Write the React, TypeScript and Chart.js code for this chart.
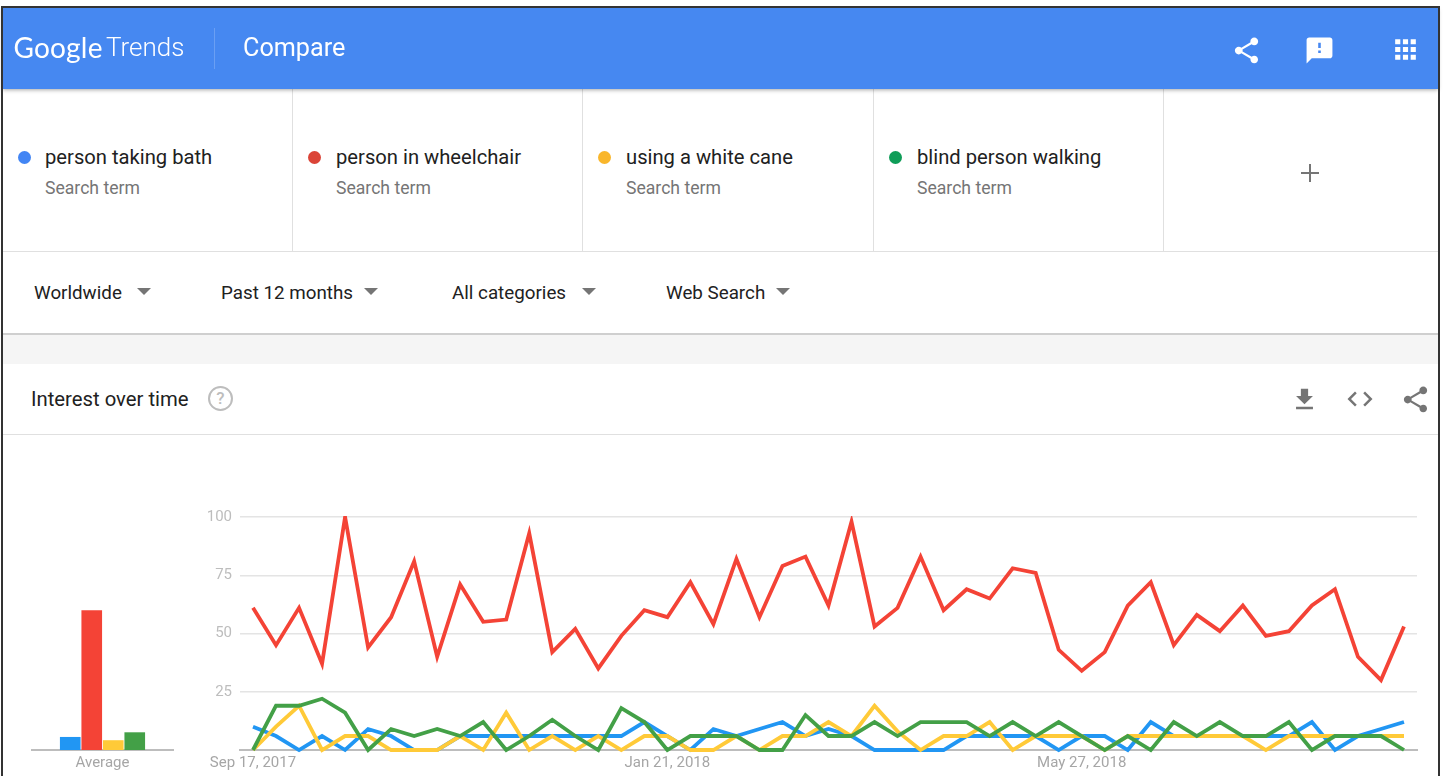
import React, { useEffect, useRef } from "react";
import { Chart, registerables } from "chart.js";

Chart.register(...registerables);

const seriesNames = ["person taking bath", "person in wheelchair", "using a white cane", "blind person walking"];
const filters = ["Worldwide", "Past 12 months", "All categories", "Web Search"];
const yTicks = [0, 25, 50, 75, 100];
const xTickIndex = [0, 18, 36];
const xTickLabels = ["Sep 17, 2017", "Jan 21, 2018", "May 27, 2018"];

const bath = [10, 6, 0, 6, 0, 9, 6, 0, 0, 6, 6, 6, 6, 6, 6, 6, 6, 12, 6, 0, 9, 6, 9, 12, 6, 9, 6, 0, 0, 0, 0, 6, 6, 6, 6, 0, 6, 6, 0, 12, 6, 6, 6, 6, 6, 6, 12, 0, 6, 9, 12];
const wheelchair = [61, 45, 61, 37, 100, 44, 57, 81, 40, 71, 55, 56, 93, 42, 52, 35, 49, 60, 57, 72, 54, 82, 57, 79, 83, 62, 98, 53, 61, 83, 60, 69, 65, 78, 76, 43, 34, 42, 62, 72, 45, 58, 51, 62, 49, 51, 62, 69, 40, 30, 53];
const cane = [0, 10, 19, 0, 6, 6, 0, 0, 0, 6, 0, 16, 0, 6, 0, 6, 0, 6, 6, 0, 0, 6, 0, 6, 6, 12, 6, 19, 8, 0, 6, 6, 12, 0, 6, 6, 6, 0, 6, 6, 6, 6, 6, 6, 0, 6, 6, 6, 6, 6, 6];
const walking = [0, 19, 19, 22, 16, 0, 9, 6, 9, 6, 12, 0, 6, 13, 6, 0, 18, 12, 0, 6, 6, 6, 0, 0, 15, 6, 6, 12, 6, 12, 12, 12, 6, 12, 6, 12, 6, 0, 6, 0, 12, 6, 12, 6, 6, 12, 0, 6, 6, 6, 0];

const averages = [5.6, 60, 4.2, 7.6];
const averageLabels = ["Average"];

const lineColors = ["#2196F3", "#F44336", "#FFCA38", "#43A047"];
const dotColors = ["#4285F4", "#DB4437", "#F9B62B", "#0F9D58"];
const allSeries = [bath, wheelchair, cane, walking];

const FONT = "Roboto, sans-serif";

const ICONS: Record<string, string> = {
  share: "M18 16.08c-.76 0-1.44.3-1.96.77L8.91 12.7c.05-.23.09-.46.09-.7s-.04-.47-.09-.7l7.05-4.11c.54.5 1.25.81 2.04.81 1.66 0 3-1.34 3-3s-1.34-3-3-3-3 1.34-3 3c0 .24.04.47.09.7L8.04 9.81C7.5 9.31 6.79 9 6 9c-1.66 0-3 1.34-3 3s1.34 3 3 3c.79 0 1.5-.31 2.04-.81l7.12 4.16c-.05.21-.08.43-.08.65 0 1.61 1.31 2.92 2.92 2.92 1.61 0 2.92-1.31 2.92-2.92s-1.31-2.92-2.92-2.92z",
  feedback: "M20 2H4c-1.1 0-1.99.9-1.99 2L2 22l4-4h14c1.1 0 2-.9 2-2V4c0-1.1-.9-2-2-2zm-7 12h-2v-2h2v2zm0-4h-2V6h2v4z",
  apps: "M4 8h4V4H4v4zm6 12h4v-4h-4v4zm-6 0h4v-4H4v4zm0-6h4v-4H4v4zm6 0h4v-4h-4v4zm6-10v4h4V4h-4zm-6 4h4V4h-4v4zm6 6h4v-4h-4v4zm0 6h4v-4h-4v4z",
  download: "M19 9h-4V3H9v6H5l7 7 7-7zM5 18v2h14v-2H5z",
  code: "M9.4 16.6L4.8 12l4.6-4.6L8 6l-6 6 6 6 1.4-1.4zm5.2 0l4.6-4.6-4.6-4.6L16 6l6 6-6 6-1.4-1.4z",
};

function Box(p: { x: number; y: number; w: number; h: number; c: string; s?: React.CSSProperties }) {
  return <div style={{ position: "absolute", left: p.x, top: p.y, width: p.w, height: p.h, background: p.c, ...p.s }} />;
}

function Txt(p: { x: number; y: number; size: number; c: string; t: string; w?: number; f?: string; ls?: number }) {
  return (
    <span
      style={{
        position: "absolute",
        left: p.x,
        top: p.y,
        transform: "translateY(-50%)",
        font: `${p.w ?? 400} ${p.size}px ${p.f ?? FONT}`,
        color: p.c,
        whiteSpace: "nowrap",
        lineHeight: 1,
        letterSpacing: p.ls ?? 0,
      }}
    >
      {p.t}
    </span>
  );
}

function Icon(p: { name: string; cx: number; cy: number; size: number; c: string }) {
  return (
    <svg
      viewBox="0 0 24 24"
      width={p.size}
      height={p.size}
      style={{ position: "absolute", left: p.cx - p.size / 2, top: p.cy - p.size / 2 }}
    >
      <path d={ICONS[p.name]} fill={p.c} />
    </svg>
  );
}

function Arrow(p: { x: number; y: number }) {
  return (
    <div
      style={{
        position: "absolute",
        left: p.x,
        top: p.y,
        width: 0,
        height: 0,
        borderLeft: "7px solid transparent",
        borderRight: "7px solid transparent",
        borderTop: "7px solid #757575",
      }}
    />
  );
}

const cardX = [3, 294, 584, 875];
const arrowX = [137, 364, 582, 776];
const filterX = [34, 221, 452, 666];

export default function App() {
  const lineRef = useRef<HTMLCanvasElement>(null);
  const barRef = useRef<HTMLCanvasElement>(null);

  useEffect(() => {
    const tickFont = { family: FONT, size: 15 };
    const line = new Chart(lineRef.current!, {
      type: "line",
      data: {
        datasets: allSeries.map((s, k) => ({
          label: seriesNames[k],
          data: s.map((v, i) => ({ x: i, y: v })),
          borderColor: lineColors[k],
          borderWidth: 3.8,
          pointRadius: 0,
          tension: 0,
          order: 4 - k,
          clip: { left: 20, right: 20, top: 1, bottom: 3 } as any,
        })),
      },
      options: {
        animation: false,
        responsive: false,
        layout: { padding: { left: 0, right: 23, top: 17, bottom: 0 } },
        plugins: { legend: { display: false }, tooltip: { enabled: false } },
        scales: {
          x: {
            type: "linear",
            min: -13 / 23.02,
            max: 50 + 13 / 23.02,
            afterBuildTicks: (s: any) => {
              s.ticks = xTickIndex.map((v) => ({ value: v }));
            },
            afterFit: (s: any) => {
              s.height = 26;
            },
            grid: { display: false, drawTicks: false },
            border: { color: "#BDBDBD", width: 2 },
            ticks: {
              autoSkip: false,
              maxRotation: 0,
              color: "#A6A6A6",
              font: tickFont,
              padding: 4,
              callback: (v: any) => xTickLabels[xTickIndex.indexOf(Number(v))] ?? "",
            },
          },
          y: {
            min: 0,
            max: 100,
            afterBuildTicks: (s: any) => {
              s.ticks = yTicks.map((v) => ({ value: v }));
            },
            afterFit: (s: any) => {
              s.width = 240 - 190;
            },
            grid: { color: "#E4E4E4", lineWidth: 1.5, drawTicks: false },
            border: { display: false },
            ticks: {
              color: "#BDBDBD",
              font: tickFont,
              padding: 8,
              callback: (v: any) => (Number(v) === 0 ? "" : String(v)),
            },
          },
        },
      },
    });

    const bar = new Chart(barRef.current!, {
      type: "bar",
      data: {
        labels: averageLabels,
        datasets: averages.map((v, k) => ({
          label: seriesNames[k],
          data: [v],
          backgroundColor: lineColors[k],
          barPercentage: 0.96,
          categoryPercentage: 0.61,
        })),
      },
      options: {
        animation: false,
        responsive: false,
        layout: { padding: { left: 32, right: 27, top: 17, bottom: 0 } },
        plugins: { legend: { display: false }, tooltip: { enabled: false } },
        scales: {
          x: {
            afterFit: (s: any) => {
              s.height = 26;
            },
            grid: { display: false, drawTicks: false },
            border: { color: "#BDBDBD", width: 2 },
            ticks: { color: "#A6A6A6", font: tickFont, padding: 4 },
          },
          y: { display: false, min: 0, max: 100 },
        },
      },
    });

    return () => {
      line.destroy();
      bar.destroy();
    };
  }, []);

  return (
    <div style={{ position: "fixed", inset: 0, overflow: "hidden", background: "#fff", fontFamily: FONT }}>
      <Box x={3} y={8} w={1435} h={81} c="#4688F1" s={{ boxShadow: "0 1px 4px rgba(0,0,0,0.35)", zIndex: 2 }} />
      <div style={{ position: "absolute", inset: 0, zIndex: 3 }}>
        <Txt x={13.5} y={47} size={28} c="#fff" t="Google" w={400} f="Lato, sans-serif" ls={0.2} />
        <Txt x={106} y={47} size={26} c="#fff" t="Trends" w={300} />
        <Box x={214} y={28} w={1} h={41} c="#6A9FF4" />
        <Txt x={243} y={47.5} size={25.2} c="#fff" t="Compare" />
        <Icon name="share" cx={1246} cy={50} size={31} c="#fff" />
        <Icon name="feedback" cx={1319} cy={50} size={31} c="#fff" />
        <Icon name="apps" cx={1405.5} cy={49} size={31} c="#fff" />
      </div>

      {[292, 582, 873, 1163].map((x) => (
        <Box key={x} x={x} y={89} w={1} h={162} c="#E0E0E0" />
      ))}
      <Box x={3} y={251} w={1435} h={1} c="#E0E0E0" />
      {seriesNames.map((n, i) => (
        <React.Fragment key={n}>
          <Box x={cardX[i] + 15 - (i > 0 ? 1 : 0)} y={151} w={13} h={13} c={dotColors[i]} s={{ borderRadius: "50%" }} />
          <Txt x={cardX[i] + 42} y={156.5} size={20.2} c="#212121" t={n} />
          <Txt x={cardX[i] + 42} y={188.5} size={17.6} c="#757575" t="Search term" />
        </React.Fragment>
      ))}
      <Box x={1301} y={172} w={18} h={2} c="#757575" />
      <Box x={1309} y={164} w={2} h={18} c="#757575" />

      {filters.map((f, i) => (
        <React.Fragment key={f}>
          <Txt x={filterX[i]} y={292.5} size={18.8} c="#212121" t={f} />
          <Arrow x={arrowX[i]} y={288} />
        </React.Fragment>
      ))}
      <Box x={3} y={333} w={1435} h={31} c="#F5F5F5" s={{ borderTop: "2px solid #CFCFCF", boxSizing: "border-box" }} />

      <Txt x={31} y={399} size={20.3} c="#212121" t="Interest over time" />
      <div
        style={{
          position: "absolute",
          left: 208,
          top: 386,
          width: 21,
          height: 21,
          border: "2px solid #BDBDBD",
          borderRadius: "50%",
          color: "#BDBDBD",
          font: `500 17px ${FONT}`,
          lineHeight: "21px",
          textAlign: "center",
        }}
      >
        ?
      </div>
      <Icon name="download" cx={1304.5} cy={399} size={29} c="#757575" />
      <Icon name="code" cx={1360} cy={399} size={30} c="#757575" />
      <Icon name="share" cx={1415.5} cy={399.5} size={31} c="#757575" />
      <Box x={3} y={434} w={1435} h={1} c="#E0E0E0" />

      <canvas ref={barRef} width={200} height={276} style={{ position: "absolute", left: 0, top: 500, width: 200, height: 276 }} />
      <canvas ref={lineRef} width={1250} height={276} style={{ position: "absolute", left: 190, top: 500, width: 1250, height: 276 }} />

      <Box x={0} y={0} w={1443} h={6} c="#fff" s={{ zIndex: 4 }} />
      <Box x={1} y={6} w={1439} h={2} c="#333" s={{ zIndex: 4 }} />
      <Box x={1} y={6} w={2} h={770} c="#333" s={{ zIndex: 4 }} />
      <Box x={1438} y={6} w={2} h={770} c="#333" s={{ zIndex: 4 }} />
    </div>
  );
}
